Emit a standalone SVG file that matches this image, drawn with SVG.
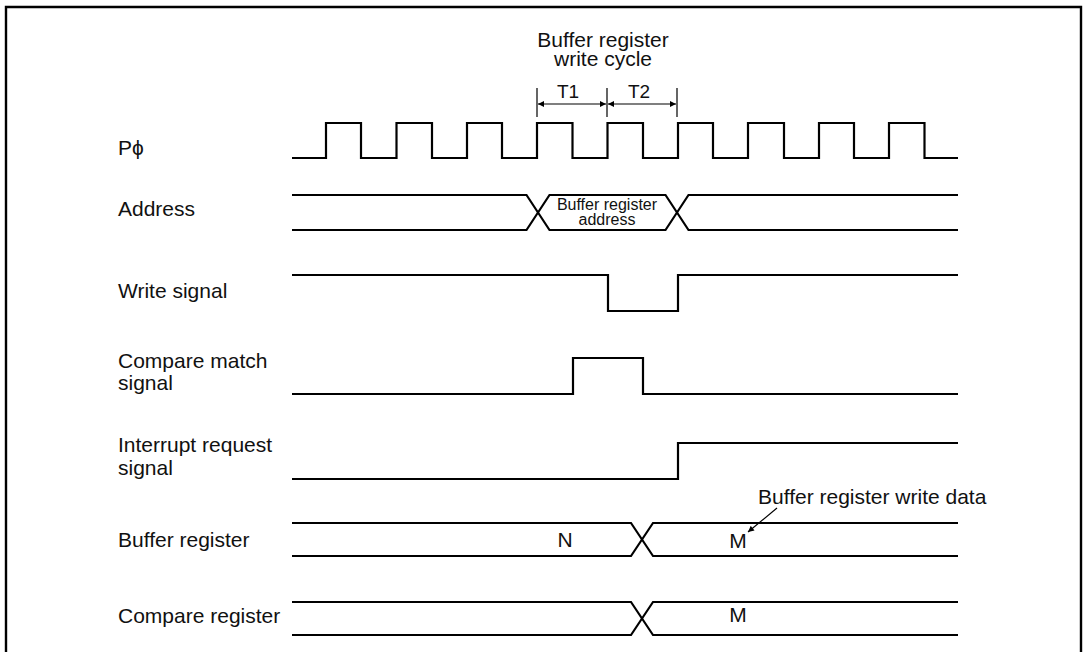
<svg xmlns="http://www.w3.org/2000/svg" width="1088" height="652" viewBox="0 0 1088 652">
<style>
.w{fill:none;stroke:#000;stroke-width:2.2;stroke-linejoin:miter}
.t{font-family:"Liberation Sans",Arial,sans-serif;font-size:21px;fill:#111}
.m{font-family:"Liberation Sans",Arial,sans-serif;font-size:19px;fill:#111}
.s{font-family:"Liberation Sans",Arial,sans-serif;font-size:16px;fill:#111}
.a{fill:none;stroke:#000;stroke-width:1.2}
</style>
<defs>
<marker id="ah" viewBox="0 0 10 10" refX="10" refY="5" markerWidth="8" markerHeight="6" orient="auto-start-reverse" markerUnits="userSpaceOnUse">
<path d="M0,0 L10,5 L0,10 z" fill="#000"/>
</marker>
</defs>
<rect width="1088" height="652" fill="#fff"/>
<path d="M6,652 V7 H1081 V652" fill="none" stroke="#000" stroke-width="2.4"/>

<g id="title">
<text class="t" x="603" y="47" text-anchor="middle">Buffer register</text>
<text class="t" x="603" y="66" text-anchor="middle">write cycle</text>
<text class="m" x="568" y="98" text-anchor="middle">T1</text>
<text class="m" x="639" y="98" text-anchor="middle">T2</text>
</g>

<g id="labels">
<text class="t" x="118" y="155">Pϕ</text>
<text class="t" x="118" y="216">Address</text>
<text class="t" x="118" y="298">Write signal</text>
<text class="t" x="118" y="368">Compare match</text>
<text class="t" x="118" y="390">signal</text>
<text class="t" x="118" y="452">Interrupt request</text>
<text class="t" x="118" y="475">signal</text>
<text class="t" x="118" y="547">Buffer register</text>
<text class="t" x="118" y="623">Compare register</text>
</g>

<g id="connectors">
<path class="a" d="M537,88 V117 M607,88 V117 M677,88 V117"/>
<line class="a" x1="538" y1="104" x2="606" y2="104" marker-start="url(#ah)" marker-end="url(#ah)"/>
<line class="a" x1="608" y1="104" x2="676" y2="104" marker-start="url(#ah)" marker-end="url(#ah)"/>
<line class="a" x1="777" y1="508" x2="748" y2="532" marker-end="url(#ah)"/>
</g>

<g id="clock">
<path class="w" d="M292,158 H326 V123 H361 V158 H396.5 V123 H432 V158 H467 V123 H502 V158 H537 V123 H572.5 V158 H607.5 V123 H643 V158 H678 V123 H713 V158 H748 V123 H784 V158 H819 V123 H854 V158 H889 V123 H924.5 V158 H958"/>
</g>

<g id="address">
<path class="w" d="M292,195 H526.5 L549.5,230 H665.5 L688.5,195 H958"/>
<path class="w" d="M292,230 H526.5 L549.5,195 H665.5 L688.5,230 H958"/>
<text class="s" x="607" y="210" text-anchor="middle">Buffer register</text>
<text class="s" x="607" y="225" text-anchor="middle">address</text>
</g>

<g id="write-signal">
<path class="w" d="M292,275 H608 V311 H678 V275 H958"/>
</g>

<g id="compare-match">
<path class="w" d="M292,394 H573 V358 H643 V394 H958"/>
</g>

<g id="interrupt">
<path class="w" d="M292,479 H678 V443 H958"/>
</g>

<g id="buffer-register">
<path class="w" d="M292,523 H631 L653,556 H958"/>
<path class="w" d="M292,556 H631 L653,523 H958"/>
<text class="t" x="565" y="547" text-anchor="middle">N</text>
<text class="t" x="738" y="548" text-anchor="middle">M</text>
<text class="t" x="758" y="504">Buffer register write data</text>
</g>

<g id="compare-register">
<path class="w" d="M292,602 H631 L653,635 H958"/>
<path class="w" d="M292,635 H631 L653,602 H958"/>
<text class="t" x="738" y="622" text-anchor="middle">M</text>
</g>
</svg>
